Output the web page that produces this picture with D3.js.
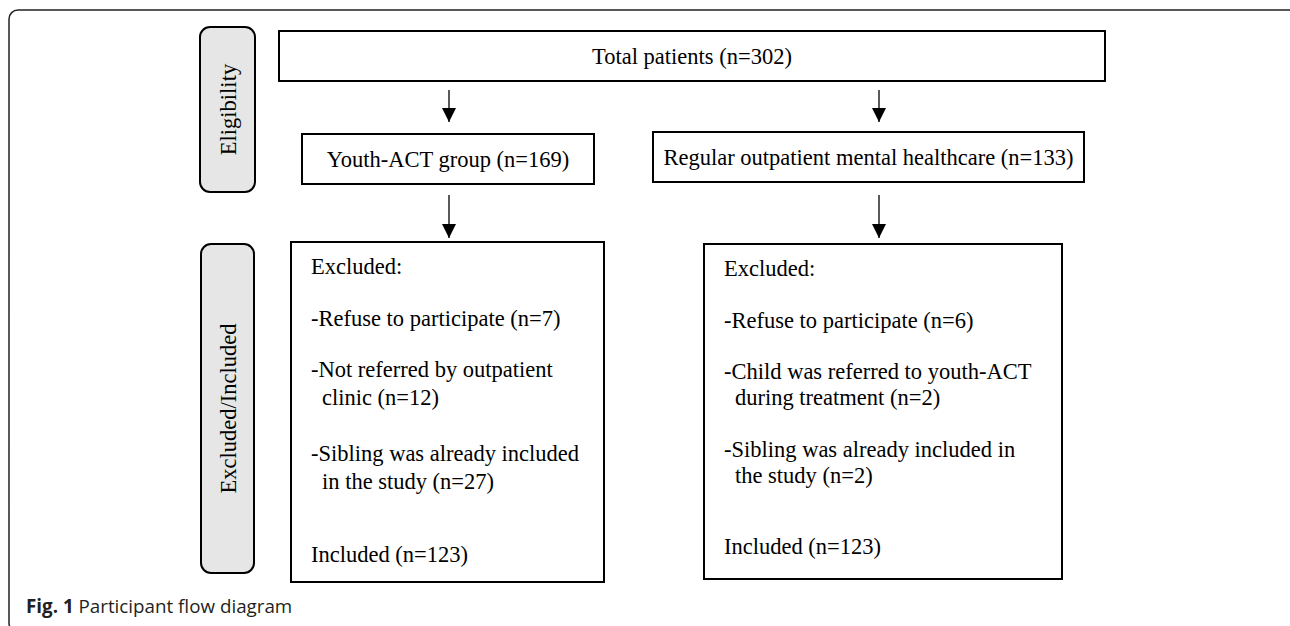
<!DOCTYPE html>
<html>
<head>
<meta charset="utf-8">
<script src="https://cdn.jsdelivr.net/npm/d3@7"></script>
<style>
    body { margin: 0; background: #fff; }
    svg { display: block; }
    .box { fill: #fff; stroke: #000; stroke-width: 2; }
    .stage { fill: #e6e6e6; stroke: #000; stroke-width: 2; }
    .serif { font-family: "Liberation Serif", "Times New Roman", serif; font-size: 22.5px; fill: #000; }
    .caption { font-family: "Open Sans", sans-serif; font-size: 18.8px; fill: #231f20; }
</style>
</head>
<body>
<svg id="chart" width="1290" height="626"></svg>
<script>
// stage labels on the left
const stages = ['Eligibility', 'Excluded/Included'];

// flow boxes
const totalLabel = 'Total patients (n=302)';
const groupLabels = ['Youth-ACT group (n=169)', 'Regular outpatient mental healthcare (n=133)'];

// exclusion details per group; each item is a list of wrapped lines
const exclusionsYouth = [
    ['Excluded:'],
    ['-Refuse to participate (n=7)'],
    ['-Not referred by outpatient', 'clinic (n=12)'],
    ['-Sibling was already included', 'in the study (n=27)']
];
const exclusionsRegular = [
    ['Excluded:'],
    ['-Refuse to participate (n=6)'],
    ['-Child was referred to youth-ACT', 'during treatment (n=2)'],
    ['-Sibling was already included in', 'the study (n=2)']
];
const includedLabels = ['Included (n=123)', 'Included (n=123)'];

const captionBold = 'Fig. 1';
const captionText = 'Participant flow diagram';

const svg = d3.select('#chart');

// outer figure frame (only top/left visible in the crop)
svg.append('rect')
        .attr('x', 9).attr('y', 10)
        .attr('width', 1290).attr('height', 622)
        .attr('rx', 9)
        .attr('fill', 'none')
        .attr('stroke', '#222')
        .attr('stroke-width', 1.5);

// layout
const stageLayout = [
    { x: 200, y: 27, w: 55, h: 165 },
    { x: 201, y: 244, w: 53, h: 329 }
];
const totalBox = { x: 279, y: 31, w: 826, h: 50 };
const groupBoxes = [
    { x: 302, y: 134, w: 292, h: 50 },
    { x: 653, y: 132, w: 431, h: 50 }
];
const detailBoxes = [
    { x: 291, y: 242, w: 313, h: 340, tx: 311, first: 32, inc: 20, lineGap: 28, blockGap: 51.5, multiGap: 56 },
    { x: 704, y: 244, w: 358, h: 335, tx: 724, first: 32, inc: 25, lineGap: 26, blockGap: 51.5, multiGap: 52 }
];
const arrowX = [449, 879];

// stage pills
const stageG = svg.selectAll('g.stage-g')
        .data(stages)
        .enter()
        .append('g')
        .attr('class', 'stage-g');
stageG.append('rect')
        .attr('class', 'stage')
        .attr('x', (d, i) => stageLayout[i].x)
        .attr('y', (d, i) => stageLayout[i].y)
        .attr('width', (d, i) => stageLayout[i].w)
        .attr('height', (d, i) => stageLayout[i].h)
        .attr('rx', 10);
stageG.append('text')
        .attr('class', 'serif')
        .attr('text-anchor', 'middle')
        .attr('transform', (d, i) => {
            const s = stageLayout[i];
            return `translate(${s.x + s.w / 2 + 8}, ${s.y + s.h / 2}) rotate(-90)`;
        })
        .text(d => d);

// arrow marker
svg.append('defs').append('marker')
        .attr('id', 'arrow')
        .attr('viewBox', '0 0 10 10')
        .attr('refX', 10).attr('refY', 5)
        .attr('markerUnits', 'userSpaceOnUse')
        .attr('markerWidth', 14).attr('markerHeight', 14)
        .attr('orient', 'auto')
        .append('path')
        .attr('d', 'M0,0 L10,5 L0,10 Z')
        .attr('fill', '#000');

// top box
svg.append('rect')
        .attr('class', 'box')
        .attr('x', totalBox.x).attr('y', totalBox.y)
        .attr('width', totalBox.w).attr('height', totalBox.h);
svg.append('text')
        .attr('class', 'serif')
        .attr('x', totalBox.x + totalBox.w / 2)
        .attr('y', totalBox.y + totalBox.h / 2 + 8)
        .attr('text-anchor', 'middle')
        .text(totalLabel);

// arrows: total -> groups, groups -> details
const arrows = [
    { x: arrowX[0], y1: 90, y2: 122 },
    { x: arrowX[1], y1: 90, y2: 122 },
    { x: arrowX[0], y1: 195, y2: 238 },
    { x: arrowX[1], y1: 195, y2: 238 }
];
svg.selectAll('line.arrow')
        .data(arrows)
        .enter()
        .append('line')
        .attr('class', 'arrow')
        .attr('x1', d => d.x).attr('x2', d => d.x)
        .attr('y1', d => d.y1).attr('y2', d => d.y2)
        .attr('stroke', '#000')
        .attr('stroke-width', 1.3)
        .attr('marker-end', 'url(#arrow)');

// group boxes
svg.selectAll('rect.group')
        .data(groupLabels)
        .enter()
        .append('rect')
        .attr('class', 'box group')
        .attr('x', (d, i) => groupBoxes[i].x)
        .attr('y', (d, i) => groupBoxes[i].y)
        .attr('width', (d, i) => groupBoxes[i].w)
        .attr('height', (d, i) => groupBoxes[i].h);
svg.selectAll('text.group')
        .data(groupLabels)
        .enter()
        .append('text')
        .attr('class', 'serif group')
        .attr('x', (d, i) => groupBoxes[i].x + groupBoxes[i].w / 2)
        .attr('y', (d, i) => groupBoxes[i].y + groupBoxes[i].h / 2 + 8)
        .attr('text-anchor', 'middle')
        .text(d => d);

// detail boxes with exclusion lists
const details = [exclusionsYouth, exclusionsRegular];
details.forEach((items, i) => {
    const b = detailBoxes[i];
    svg.append('rect')
            .attr('class', 'box')
            .attr('x', b.x).attr('y', b.y)
            .attr('width', b.w).attr('height', b.h);

    let y = b.y + b.first;
    items.forEach(lines => {
        lines.forEach((line, j) => {
            svg.append('text')
                    .attr('class', 'serif')
                    .attr('x', b.tx + (j > 0 ? 11 : 0))
                    .attr('y', y + j * b.lineGap)
                    .text(line);
        });
        y += (lines.length - 1) * b.lineGap + (lines.length > 1 ? b.multiGap : b.blockGap);
    });

    svg.append('text')
            .attr('class', 'serif')
            .attr('x', b.tx)
            .attr('y', b.y + b.h - b.inc)
            .text(includedLabels[i]);
});

// caption
const cap = svg.append('text')
        .attr('class', 'caption')
        .attr('x', 26)
        .attr('y', 613);
cap.append('tspan').attr('font-weight', 'bold').text(captionBold);
cap.append('tspan').text(' ' + captionText);
</script>
</body>
</html>
